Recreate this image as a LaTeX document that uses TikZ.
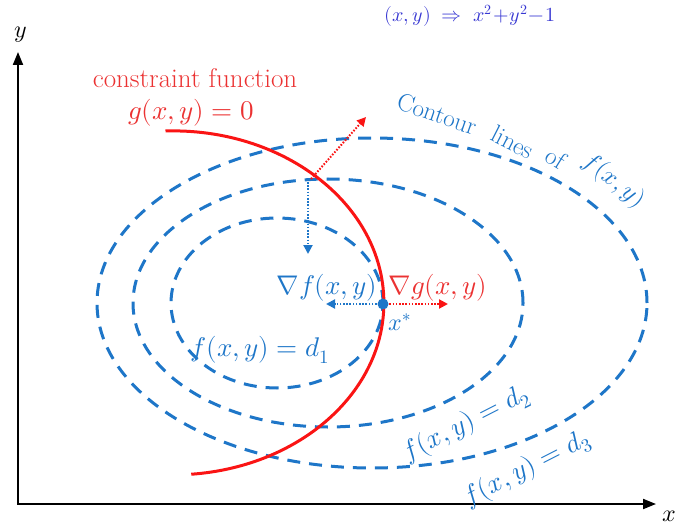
\documentclass[tikz,border=0pt]{standalone}
\usepackage{fontspec}
\usepackage{unicode-math}
\setmathfont{Latin Modern Math}
\usetikzlibrary{arrows.meta}
\definecolor{cblue}{RGB}{30,118,200}
\definecolor{cred}{RGB}{250,20,20}
\definecolor{tred}{RGB}{235,50,50}
\definecolor{hand}{RGB}{55,55,210}
\tikzset{
  axis/.style={line width=2pt,-{Triangle[length=13pt,width=10pt]}},
  contour/.style={cblue,line width=3pt,dash pattern=on 13pt off 9pt},
  constraint/.style={cred,line width=3pt},
  dotarrow/.style={line width=2pt,dash pattern=on 1.6pt off 1.6pt,-{Triangle[length=9pt,width=9pt]}},
  lbl/.style={inner sep=0pt,font=\fontsize{27}{30}\selectfont},
  bluelbl/.style={lbl,text=cblue},
  redlbl/.style={lbl,text=tred}
}
\begin{document}
\begin{tikzpicture}[x=1pt,y=1pt]
\useasboundingbox (0,0) rectangle (676,528);
% axes
\coordinate (O) at (18,24);
\coordinate (Ytip) at (18,476);
\coordinate (Xtip) at (656,24);
\draw[axis] (18,25) -- (Ytip);
\draw[axis] (17,24) -- (Xtip);
\node[lbl,font=\fontsize{24}{26}\selectfont] (ylab) at (21,493) {$y$};
\node[lbl,anchor=west,font=\fontsize{24}{26}\selectfont] (xlab) at (662,12) {$x$};
% handwritten note
\node[lbl,text=hand,font=\fontsize{20}{22}\selectfont] (note) at (470,512) {$(x,y) \;\Rightarrow\; x^2\!+\!y^2\!-\!1$};
% contours
\draw[contour] (372,225) ellipse [x radius=275, y radius=165];
\draw[contour] (328,225) ellipse [x radius=195, y radius=124];
\draw[contour] (277,225) ellipse [x radius=106, y radius=85];
% constraint
\draw[constraint] (165.5,397) arc[start angle=92, end angle=-85, x radius=211, y radius=172];
% gradients at upper intersection
\coordinate (P) at (311,349);
\coordinate (Pr) at (366,411);
\coordinate (Pb) at (308,274);
\draw[dotarrow,cred] (P) -- (Pr);
\draw[dotarrow,cblue] (308,346) -- (Pb);
% optimum
\coordinate (xs) at (383,224);
\coordinate (xl) at (326,224);
\coordinate (xr) at (448,224);
\draw[dotarrow,cblue] (xs) -- (xl);
\draw[dotarrow,cred] (xs) -- (xr);
\fill[cblue] (xs) circle (5.5);
% labels
\node[redlbl] (cf) at (195,450) {constraint function};
\node[redlbl] (g0) at (191,415) {$g(x,y) = 0$};
\node[bluelbl,font=\fontsize{25}{28}\selectfont,rotate=-19] (c1) at (437,414) {Contour};
\node[bluelbl,font=\fontsize{25}{28}\selectfont,rotate=-27] (c2) at (513,386) {lines};
\node[bluelbl,font=\fontsize{25}{28}\selectfont,rotate=-32] (c3) at (556,370) {of};
\node[bluelbl,font=\fontsize{25}{28}\selectfont,rotate=-38] (c4) at (614,347) {$f(x,y)$};
\node[bluelbl] (gf) at (327,240) {$\nabla f(x,y)$};
\node[redlbl] (gg) at (438,240) {$\nabla g(x,y)$};
\node[bluelbl,font=\fontsize{24}{26}\selectfont] (xst) at (400,206) {$x^*$};
\node[bluelbl] (d1) at (260,178) {$f(x,y) = d_1$};
\node[bluelbl,rotate=27] (d2) at (466,104) {$f(x,y) = d_2$};
\node[bluelbl,rotate=27] (d3) at (527,59) {$f(x,y) = d_3$};
\end{tikzpicture}
\end{document}
